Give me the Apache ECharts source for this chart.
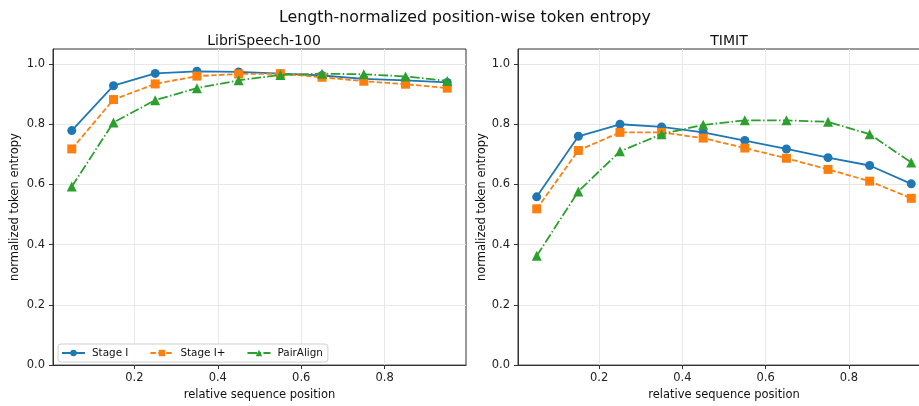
<!DOCTYPE html>
<html>
<head>
<meta charset="utf-8">
<script src="https://cdn.jsdelivr.net/npm/echarts@6/dist/echarts.min.js"></script>
<style>
  html, body { margin: 0; padding: 0; background: #fff; overflow: hidden; }
  /* the right panel runs past the window edge in the original, so the canvas is wider */
  #main { width: 940px; height: 406px; }
</style>
</head>
<body>
<div id="main"></div>
<script>
// relative positions (x) shared by every curve
var positions = [0.05, 0.15, 0.25, 0.35, 0.45, 0.55, 0.65, 0.75, 0.85, 0.95];
var xTicks = [0.2, 0.4, 0.6, 0.8];
var yTicks = [0, 0.2, 0.4, 0.6, 0.8, 1.0];

// LibriSpeech-100
var libriStage1  = [0.779, 0.928, 0.969, 0.976, 0.974, 0.968, 0.962, 0.951, 0.946, 0.939];
var libriStage1p = [0.718, 0.882, 0.934, 0.960, 0.967, 0.968, 0.956, 0.943, 0.933, 0.920];
var libriPair    = [0.593, 0.806, 0.880, 0.920, 0.946, 0.964, 0.968, 0.966, 0.959, 0.944];

// TIMIT
var timitStage1  = [0.559, 0.760, 0.800, 0.791, 0.773, 0.746, 0.718, 0.689, 0.663, 0.602];
var timitStage1p = [0.519, 0.713, 0.773, 0.773, 0.754, 0.721, 0.687, 0.650, 0.611, 0.554];
var timitPair    = [0.363, 0.577, 0.710, 0.767, 0.798, 0.813, 0.813, 0.808, 0.767, 0.673];

var seriesNames = ['Stage I', 'Stage I+', 'PairAlign'];
var colors = ['#1f77b4', '#ff7f0e', '#2ca02c'];

function pairs(ys) {
    var out = [];
    for (var i = 0; i < ys.length; i++) {
        out.push([positions[i], ys[i]]);
    }
    return out;
}

var font = 'DejaVu Sans';

function makeX(idx) {
    return {
        type: 'value', gridIndex: idx,
        min: 0.005, max: 0.995,
        name: 'relative sequence position',
        nameLocation: 'middle', nameGap: 23,
        nameTextStyle: { fontFamily: font, fontSize: 11.5, color: '#111' },
        axisLine: { show: true, lineStyle: { color: '#333', width: 1 } },
        axisTick: { show: true, length: 4, customValues: xTicks, lineStyle: { color: '#333' } },
        axisLabel: { customValues: xTicks, margin: 7, fontFamily: font, fontSize: 11.5, color: '#222',
            formatter: function (v) { return v.toFixed(1); } },
        splitLine: { show: true, lineStyle: { color: '#e8e8e8', width: 1 } }
    };
}
function makeY(idx) {
    return {
        type: 'value', gridIndex: idx,
        min: 0, max: 1.05,
        name: 'normalized token entropy',
        nameLocation: 'middle', nameGap: idx === 0 ? 32 : 30,
        nameTextStyle: { fontFamily: font, fontSize: 11.5, color: '#111' },
        axisLine: { show: true, lineStyle: { color: '#333', width: 1 } },
        axisTick: { show: true, length: 4, customValues: yTicks, lineStyle: { color: '#333' } },
        axisLabel: { customValues: yTicks, margin: 8, fontFamily: font, fontSize: 11.5, color: '#222',
            formatter: function (v) { return v.toFixed(1); } },
        splitLine: { show: true, lineStyle: { color: '#e8e8e8', width: 1 } }
    };
}

function makeSeries(k, data, idx) {
    var dash = [null, [5.5, 2.4], [9.6, 2.4, 1.5, 2.4]][k];
    var sym = ['circle', 'rect', 'triangle'][k];
    var size = [9, 9, 10][k];
    return {
        name: seriesNames[k], type: 'line',
        xAxisIndex: idx, yAxisIndex: idx,
        data: pairs(data),
        symbol: sym, symbolSize: size, showSymbol: true,
        color: colors[k],
        lineStyle: { color: colors[k], width: 1.8, type: dash || 'solid' },
        itemStyle: { color: colors[k] },
        animation: false, z: 3 + k
    };
}

var myChart = echarts.init(document.getElementById('main'), null, { renderer: 'canvas' });
var option = {
    backgroundColor: '#fff',
    animation: false,
    title: [
        { text: 'Length-normalized position-wise token entropy', left: 460, top: 5, textAlign: 'center',
          textStyle: { fontFamily: font, fontSize: 15.8, fontWeight: 'normal', color: '#111' } },
        { text: 'LibriSpeech-100', left: 259, top: 29, textAlign: 'center',
          textStyle: { fontFamily: font, fontSize: 14, fontWeight: 'normal', color: '#111' } },
        { text: 'TIMIT', left: 724, top: 29, textAlign: 'center',
          textStyle: { fontFamily: font, fontSize: 14, fontWeight: 'normal', color: '#111' } }
    ],
    legend: {
        left: 58, top: 344,
        data: seriesNames,
        itemWidth: 23, itemHeight: 8, itemGap: 21,
        padding: [4, 5, 4, 3],
        borderColor: '#d0d0d0', borderWidth: 1, borderRadius: 3,
        backgroundColor: 'rgba(255,255,255,0.85)',
        textStyle: { fontFamily: font, fontSize: 10.4, color: '#111', padding: [0, 0, 0, 2] }
    },
    grid: [
        { left: 53, top: 49, width: 413, height: 319, show: true, borderColor: '#333', borderWidth: 1, containLabel: false },
        { left: 518, top: 49, width: 412, height: 319, show: true, borderColor: '#333', borderWidth: 1, containLabel: false }
    ],
    xAxis: [makeX(0), makeX(1)],
    yAxis: [makeY(0), makeY(1)],
    series: [
        makeSeries(0, libriStage1, 0),
        makeSeries(1, libriStage1p, 0),
        makeSeries(2, libriPair, 0),
        makeSeries(0, timitStage1, 1),
        makeSeries(1, timitStage1p, 1),
        makeSeries(2, timitPair, 1)
    ]
};
myChart.setOption(option);
</script>
</body>
</html>
